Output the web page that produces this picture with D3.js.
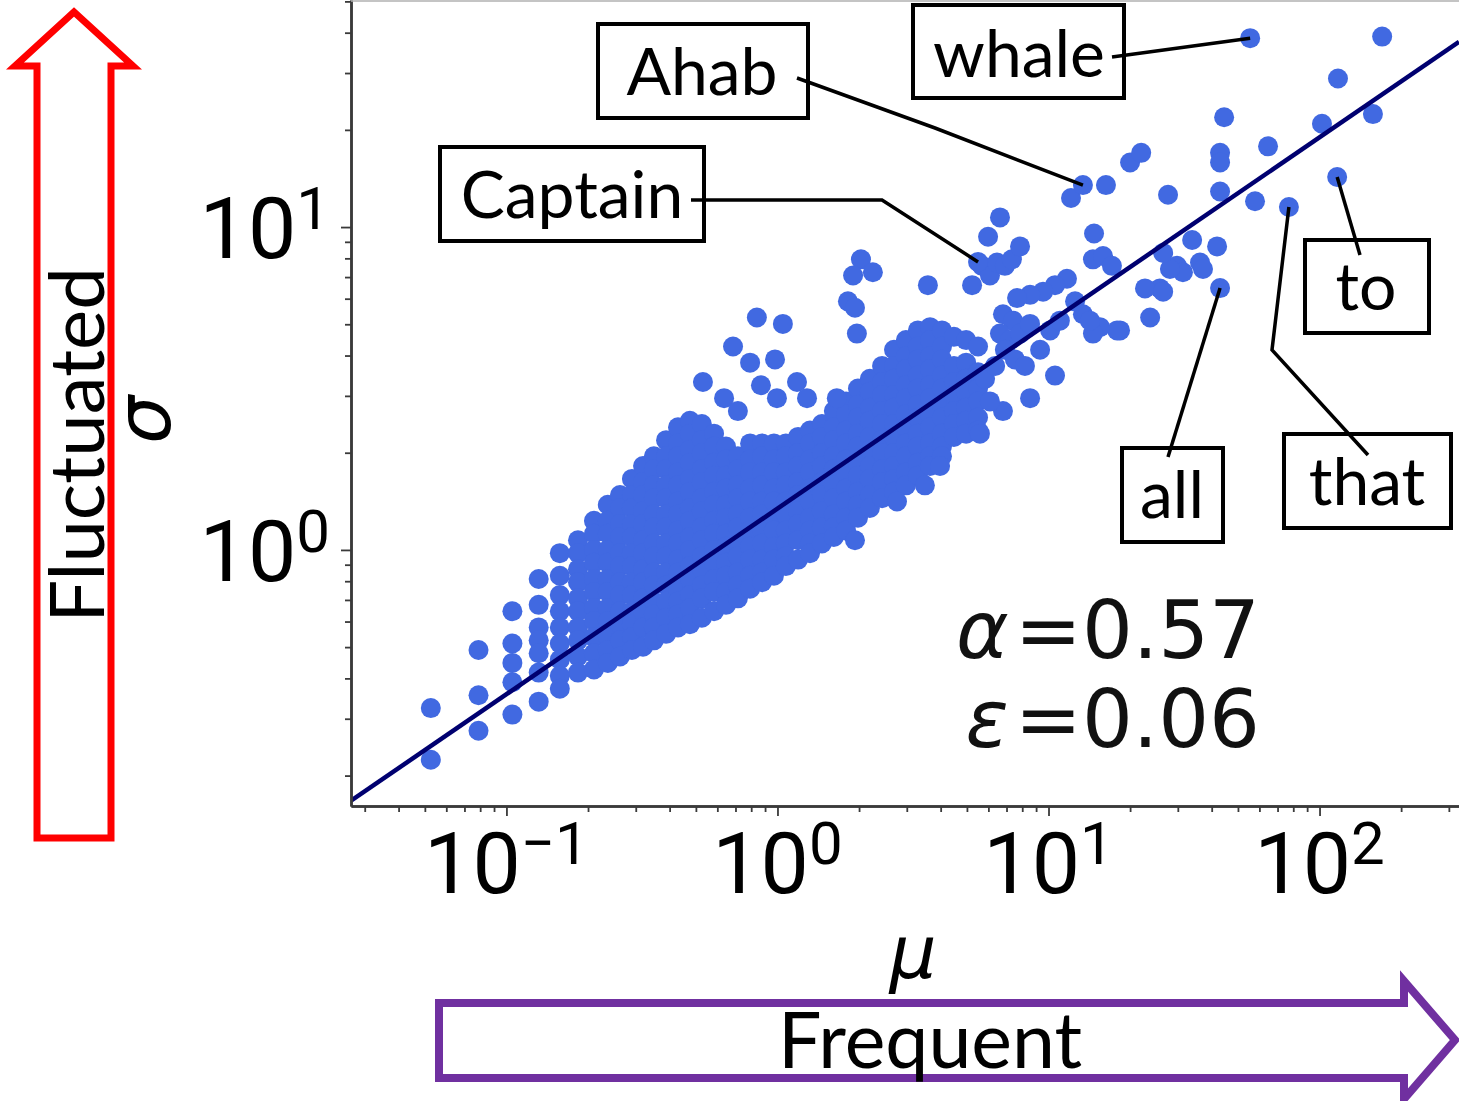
<!DOCTYPE html>
<html>
<head>
<meta charset="utf-8">
<script src="https://cdn.jsdelivr.net/npm/d3@7"></script>
<style>
  body { margin: 0; background: #fff; }
</style>
</head>
<body>
<script>
// values, stored as log10(mu), log10(sigma)

// dense part of the cloud: one column per log10(mu), with the log10(sigma) of the words in it
const cloudColumns = [
  [-1.279, [-0.49, -0.65]],
  [-1.103, [-0.31, -0.45, -0.56]],
  [-0.978, [-0.19, -0.29, -0.35, -0.41, -0.51]],
  [-0.881, [-0.09, -0.17, -0.24, -0.28, -0.32, -0.38, -0.47]],
  [-0.803, [-0.01, -0.08, -0.14, -0.19, -0.24, -0.29, -0.34, -0.39, -0.43]],
  [-0.736, [0.03, -0.01, -0.06, -0.10, -0.15, -0.19, -0.24, -0.28, -0.33, -0.38]],
  [-0.677, [0.09, 0.05, 0.00, -0.04, -0.09, -0.13, -0.18, -0.22, -0.27, -0.32, -0.37]],
  [-0.626, [0.14, 0.09, 0.05, 0.00, -0.04, -0.09, -0.13, -0.18, -0.22, -0.27, -0.31, -0.35]],
  [-0.581, [0.17, 0.13, 0.08, 0.04, -0.01, -0.05, -0.10, -0.14, -0.19, -0.23, -0.28, -0.33]],
  [-0.537, [0.22, 0.17, 0.13, 0.08, 0.04, -0.01, -0.05, -0.10, -0.14, -0.19, -0.23, -0.27, -0.31]],
  [-0.496, [0.26, 0.21, 0.17, 0.12, 0.08, 0.03, -0.01, -0.06, -0.10, -0.15, -0.19, -0.24, -0.30]],
  [-0.456, [0.29, 0.25, 0.20, 0.16, 0.11, 0.07, 0.02, -0.02, -0.07, -0.11, -0.16, -0.20, -0.24, -0.28]],
  [-0.411, [0.34, 0.29, 0.25, 0.20, 0.16, 0.11, 0.07, 0.02, -0.02, -0.07, -0.11, -0.16, -0.21, -0.26]],
  [-0.367, [0.38, 0.33, 0.29, 0.24, 0.20, 0.15, 0.11, 0.06, 0.02, -0.03, -0.07, -0.12, -0.16, -0.20, -0.24]],
  [-0.323, [0.40, 0.36, 0.31, 0.27, 0.22, 0.18, 0.13, 0.09, 0.04, 0.00, -0.05, -0.09, -0.14, -0.18, -0.23]],
  [-0.279, [0.39, 0.34, 0.30, 0.25, 0.21, 0.16, 0.12, 0.07, 0.03, -0.02, -0.06, -0.11, -0.15, -0.21]],
  [-0.234, [0.36, 0.32, 0.27, 0.23, 0.18, 0.14, 0.09, 0.05, 0.00, -0.04, -0.09, -0.13, -0.19]],
  [-0.190, [0.32, 0.28, 0.23, 0.19, 0.14, 0.10, 0.05, 0.01, -0.04, -0.08, -0.13, -0.17]],
  [-0.146, [0.29, 0.25, 0.20, 0.16, 0.11, 0.07, 0.02, -0.02, -0.07, -0.11, -0.15]],
  [-0.101, [0.33, 0.28, 0.24, 0.19, 0.15, 0.10, 0.06, 0.01, -0.03, -0.08, -0.12]],
  [-0.057, [0.33, 0.29, 0.24, 0.20, 0.15, 0.11, 0.06, 0.02, -0.03, -0.07, -0.10]],
  [-0.013, [0.33, 0.28, 0.24, 0.19, 0.15, 0.10, 0.06, 0.01, -0.03, -0.08]],
  [0.031, [0.33, 0.29, 0.24, 0.20, 0.15, 0.11, 0.06, 0.02, -0.02, -0.05]],
  [0.076, [0.35, 0.30, 0.26, 0.21, 0.17, 0.12, 0.08, 0.03, -0.03]],
  [0.120, [0.37, 0.33, 0.28, 0.24, 0.19, 0.15, 0.10, 0.06, 0.02, -0.01]],
  [0.164, [0.39, 0.35, 0.30, 0.26, 0.21, 0.17, 0.12, 0.07, 0.02]],
  [0.208, [0.43, 0.38, 0.34, 0.29, 0.25, 0.20, 0.16, 0.11, 0.07, 0.04]],
  [0.253, [0.46, 0.42, 0.37, 0.33, 0.28, 0.24, 0.19, 0.15, 0.10, 0.06]],
  [0.297, [0.50, 0.45, 0.41, 0.36, 0.32, 0.27, 0.23, 0.18, 0.14, 0.10]],
  [0.341, [0.53, 0.49, 0.44, 0.40, 0.35, 0.31, 0.26, 0.22, 0.17, 0.13]],
  [0.386, [0.57, 0.52, 0.48, 0.43, 0.39, 0.34, 0.30, 0.25, 0.21, 0.16]],
  [0.430, [0.62, 0.57, 0.53, 0.48, 0.44, 0.39, 0.35, 0.30, 0.26, 0.22, 0.18]],
  [0.474, [0.65, 0.60, 0.56, 0.51, 0.47, 0.42, 0.38, 0.33, 0.29, 0.24, 0.20]],
  [0.518, [0.68, 0.63, 0.59, 0.54, 0.50, 0.45, 0.41, 0.36, 0.32, 0.27, 0.23]],
  [0.563, [0.69, 0.65, 0.60, 0.56, 0.51, 0.47, 0.42, 0.38, 0.33, 0.29, 0.26]],
  [0.607, [0.68, 0.63, 0.59, 0.54, 0.50, 0.45, 0.41, 0.36, 0.32, 0.29]],
  [0.651, [0.66, 0.57, 0.52, 0.48, 0.43, 0.39, 0.35]],
  [0.696, [0.65, 0.58, 0.53, 0.49, 0.44, 0.40, 0.36]],
  [0.740, [0.63, 0.55, 0.50, 0.46, 0.41, 0.37]]
];

// scattered words around the cloud [log10 mu, log10 sigma]
const sparseWords = [
  [-0.275, 0.52], [-0.197, 0.47], [-0.146, 0.43], [-0.164, 0.63], [-0.101, 0.58], [-0.076, 0.72],
  [0.020, 0.70], [-0.009, 0.59], [-0.061, 0.51], [-0.002, 0.47], [0.072, 0.52], [0.109, 0.47], [0.219, 0.47],
  [0.260, 0.77], [0.286, 0.75], [0.293, 0.67], [0.308, 0.90], [0.279, 0.85], [0.352, 0.86],
  [0.555, 0.82], [0.718, 0.82], [0.755, 0.88], [0.784, 0.85], [0.810, 0.89], [0.839, 0.88], [0.865, 0.90],
  [0.821, 1.03], [0.777, 0.97], [0.895, 0.94],
  [1.083, 1.09], [1.212, 1.13], [1.301, 1.20], [1.342, 1.23], [1.168, 0.98], [1.164, 0.90], [1.201, 0.91],
  [1.234, 0.88], [1.441, 1.10], [1.648, 1.34], [1.633, 1.23], [1.633, 1.20], [1.633, 1.11], [1.762, 1.08],
  [1.810, 1.25], [2.009, 1.32], [2.068, 1.46], [2.197, 1.35], [2.231, 1.59],
  [1.530, 0.96], [1.622, 0.94], [1.559, 0.89], [1.570, 0.87], [1.474, 0.88], [1.496, 0.86], [1.448, 0.87],
  [1.423, 0.92], [1.411, 0.81], [1.356, 0.81], [1.375, 0.72], [1.264, 0.68], [1.253, 0.68], [1.190, 0.69],
  [1.164, 0.67], [1.127, 0.73], [1.153, 0.71], [1.068, 0.84], [1.024, 0.82], [0.980, 0.80], [0.932, 0.79],
  [0.884, 0.78], [0.832, 0.73], [0.869, 0.71], [0.821, 0.67], [0.858, 0.65], [0.895, 0.67], [0.932, 0.70],
  [0.839, 0.62], [0.876, 0.59], [0.913, 0.57], [0.969, 0.62], [1.006, 0.68], [1.042, 0.71], [1.024, 0.54],
  [0.932, 0.47], [0.832, 0.43], [0.747, 0.36], [0.784, 0.46], [0.766, 0.53], [0.803, 0.57], [1.098, 0.77],
  [1.423, 0.80],
  [0.441, 0.15], [0.544, 0.20], [0.600, 0.26], [0.286, 0.03]
];

// annotated words
const labelWords = ["Captain", "Ahab", "whale", "to", "that", "all"];
const labelLogMu = [0.740, 1.127, 1.744, 2.065, 1.887, 1.633];
const labelLogSigma = [0.892, 1.130, 1.585, 1.155, 1.062, 0.811];

// fitted power law sigma = c * mu^alpha (as drawn)
const fitLogC = 0.128;
const fitSlope = 0.575;
const statLines = [["α", "=0.57"], ["ε", "=0.06"]];

// axes
const xLimits = [0.0267, 327];
const yLimits = [0.161, 50.5];
const xMajorExp = [-1, 0, 1, 2];
const yMajorExp = [0, 1];

// ---- layout ----
const W = 1459, H = 1101;
const plot = { left: 351, right: 1459, top: 0, bottom: 806 };
const boxes = {
  Captain: { x: 440, y: 147, w: 264, h: 94, tx: 572, ty: 218, lead: [[691, 200], [882, 200]] },
  Ahab:    { x: 598, y: 24,  w: 210, h: 94, tx: 702, ty: 95,  lead: [[797, 78], [935, 128]] },
  whale:   { x: 913, y: 5,   w: 211, h: 93, tx: 1019, ty: 77, lead: [[1112, 57]] },
  to:      { x: 1305, y: 240, w: 124, h: 93, tx: 1366, ty: 310, lead: [[1360, 255]] },
  that:    { x: 1284, y: 434, w: 167, h: 94, tx: 1367, ty: 505, lead: [[1368, 455], [1272, 350]] },
  all:     { x: 1122, y: 448, w: 101, h: 94, tx: 1172, ty: 518, lead: [[1168, 457]] }
};

var svg = d3.select("body").append("svg").attr("width", W).attr("height", H)
  .style("background", "#fff");

var x = d3.scaleLog().domain(xLimits).range([plot.left, plot.right]);
var y = d3.scaleLog().domain(yLimits).range([plot.bottom, plot.top]);

// points
var pts = [];
cloudColumns.forEach(function(c) { c[1].forEach(function(s) { pts.push([c[0], s]); }); });
sparseWords.forEach(function(p) { pts.push(p); });
labelLogMu.forEach(function(m, i) { pts.push([m, labelLogSigma[i]]); });

svg.append("clipPath").attr("id", "plotclip").append("rect")
  .attr("x", plot.left).attr("y", plot.top)
  .attr("width", plot.right - plot.left).attr("height", plot.bottom - plot.top);

var plotG = svg.append("g").attr("clip-path", "url(#plotclip)");

plotG.selectAll("circle").data(pts).enter().append("circle")
  .attr("cx", function(d) { return x(Math.pow(10, d[0])); })
  .attr("cy", function(d) { return y(Math.pow(10, d[1])); })
  .attr("r", 10)
  .attr("fill", "#4169e1");

// fit line
var fitPts = xLimits.map(function(m) { return [m, Math.pow(10, fitLogC) * Math.pow(m, fitSlope)]; });
plotG.append("path")
  .attr("d", d3.line().x(function(d) { return x(d[0]); }).y(function(d) { return y(d[1]); })(fitPts))
  .attr("stroke", "#000070").attr("stroke-width", 4.5).attr("fill", "none");

// ticks
function minors(lim) {
  var out = [];
  for (var e = -3; e <= 3; e++) for (var k = 2; k <= 9; k++) {
    var v = k * Math.pow(10, e);
    if (v > lim[0] && v < lim[1]) out.push(v);
  }
  return out;
}
var axisColor = "#3a3a3a";

var gx = svg.append("g").attr("transform", "translate(0," + plot.bottom + ")");
gx.call(d3.axisBottom(x).tickValues(minors(xLimits)).tickSize(6).tickSizeOuter(0).tickFormat(""));
gx.call(function(g) {
  g.append("g").call(d3.axisBottom(x).tickValues(xMajorExp.map(function(e) { return Math.pow(10, e); }))
    .tickSize(10).tickSizeOuter(0).tickFormat(""));
});
gx.selectAll("path.domain").attr("stroke", axisColor).attr("stroke-width", 2.5);
gx.selectAll("line").attr("stroke", axisColor).attr("stroke-width", 1.8);

var gy = svg.append("g").attr("transform", "translate(" + plot.left + ",0)");
gy.call(d3.axisLeft(y).tickValues(minors(yLimits)).tickSize(6).tickSizeOuter(0).tickFormat(""));
gy.call(function(g) {
  g.append("g").call(d3.axisLeft(y).tickValues(yMajorExp.map(function(e) { return Math.pow(10, e); }))
    .tickSize(10).tickSizeOuter(0).tickFormat(""));
});
gy.selectAll("path.domain").attr("stroke", axisColor).attr("stroke-width", 2.5);
gy.selectAll("line").attr("stroke", axisColor).attr("stroke-width", 1.8);

// top frame
svg.append("line").attr("x1", plot.left).attr("x2", plot.right).attr("y1", 1).attr("y2", 1)
  .attr("stroke", "#b0b0b0").attr("stroke-width", 1.5);

// tick labels with superscripts
function expText(e) { return e < 0 ? "\u2212" + (-e) : String(e); }
var tickFont = "Roboto, sans-serif";

xMajorExp.forEach(function(e) {
  var t = svg.append("text").attr("x", x(Math.pow(10, e))).attr("y", 893)
    .attr("text-anchor", "middle").attr("font-family", tickFont).attr("font-size", 86).attr("fill", "#000");
  t.append("tspan").text("10");
  t.append("tspan").attr("dy", -29).attr("font-size", 60).text(expText(e));
});
yMajorExp.forEach(function(e) {
  var t = svg.append("text").attr("x", 330).attr("y", y(Math.pow(10, e)) + 31)
    .attr("text-anchor", "end").attr("font-family", tickFont).attr("font-size", 86).attr("fill", "#000");
  t.append("tspan").text("10");
  t.append("tspan").attr("dy", -29).attr("font-size", 60).text(expText(e));
});

// axis labels
svg.append("text").attr("x", 913).attr("y", 978).attr("text-anchor", "middle")
  .attr("font-family", "'DejaVu Sans', sans-serif").attr("font-style", "italic").attr("font-size", 74)
  .text("μ");
svg.append("text").attr("transform", "translate(170,420) rotate(-90)").attr("text-anchor", "middle")
  .attr("font-family", "'DejaVu Sans', sans-serif").attr("font-style", "italic").attr("font-size", 76)
  .text("σ");

// alpha / epsilon
statLines.forEach(function(s, i) {
  var t = svg.append("text").attr("x", 1260).attr("y", 658 + i * 89).attr("text-anchor", "end")
    .attr("font-family", "'DejaVu Sans', sans-serif").attr("font-size", 80).attr("fill", "#111");
  t.append("tspan").attr("font-style", "italic").text(s[0]);
  t.append("tspan").attr("dx", 6).text(s[1]);
});

// annotations
var boxFont = "Lato, 'Open Sans', sans-serif";
labelWords.forEach(function(w, i) {
  var b = boxes[w];
  var target = [x(Math.pow(10, labelLogMu[i])), y(Math.pow(10, labelLogSigma[i]))];
  svg.append("rect").attr("x", b.x).attr("y", b.y).attr("width", b.w).attr("height", b.h)
    .attr("fill", "none").attr("stroke", "#000").attr("stroke-width", 4);
  svg.append("text").attr("x", b.tx).attr("y", b.ty).attr("text-anchor", "middle")
    .attr("font-family", boxFont).attr("font-size", 66).attr("fill", "#000").text(w);
  svg.append("path").attr("d", d3.line()(b.lead.concat([target])))
    .attr("fill", "none").attr("stroke", "#000").attr("stroke-width", 3.5);
});

// red "Fluctuated" arrow
svg.append("path")
  .attr("d", "M37,838 L37,66 L15,66 L74,12 L133,66 L111,66 L111,838 Z")
  .attr("fill", "none").attr("stroke", "#ff0000").attr("stroke-width", 7).attr("stroke-linejoin", "miter");
svg.append("text").attr("transform", "translate(104,445) rotate(-90)").attr("text-anchor", "middle")
  .attr("font-family", boxFont).attr("font-size", 76).attr("fill", "#000").text("Fluctuated");

// purple "Frequent" arrow
svg.append("path")
  .attr("d", "M439,1003 L1404,1003 L1404,981 L1455,1040 L1404,1099 L1404,1078 L439,1078 Z")
  .attr("fill", "none").attr("stroke", "#7030a0").attr("stroke-width", 8).attr("stroke-linejoin", "miter");
svg.append("text").attr("x", 930).attr("y", 1068).attr("text-anchor", "middle")
  .attr("font-family", boxFont).attr("font-size", 77).attr("fill", "#000").text("Frequent");
</script>
</body>
</html>
